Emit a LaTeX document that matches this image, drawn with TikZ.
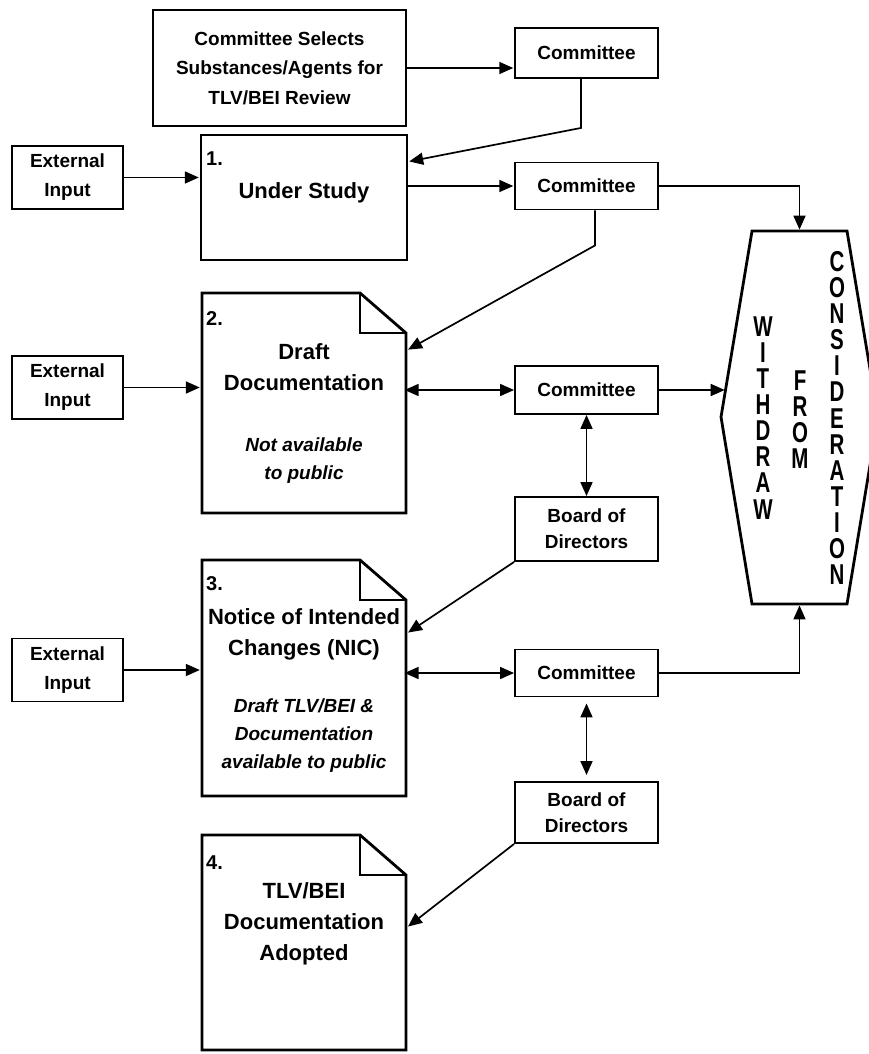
\documentclass[tikz,border=0pt]{standalone}
\usepackage{fontspec}
\setmainfont{Liberation Sans}
\usetikzlibrary{arrows.meta,calc}
\newcommand\docshape[1]{%
  \draw[docline] (#1.north west) -- ([xshift=-46pt]#1.north east) -- ([yshift=-40pt]#1.north east) -- (#1.south east) -- (#1.south west) -- cycle;
  \draw[docline] ([xshift=-46pt]#1.north east) -- ([xshift=-46pt,yshift=-40pt]#1.north east) -- ([yshift=-40pt]#1.north east);}
\begin{document}
\begin{tikzpicture}[x=1pt,y=-1pt,
  >={Triangle[length=14pt,width=12pt]},
  conn/.style={line width=1.7pt,->,shorten >=0.8pt},
  dconn/.style={line width=1.7pt,<->},
  smallbox/.style={draw,line width=1.9pt,minimum width=143pt,align=center,inner sep=0pt,
    font=\bfseries\fontsize{19}{27}\selectfont},
  extbox/.style={smallbox,minimum width=111pt,minimum height=63pt,font=\bfseries\fontsize{19}{29}\selectfont},
  bigbox/.style={draw,line width=2.8pt,inner sep=0pt,align=center},
  docbox/.style={inner sep=0pt,outer sep=0pt,minimum width=204pt},
  docline/.style={line width=2.8pt,line join=miter},
  title/.style={align=center,inner sep=0pt,font=\bfseries\fontsize{22}{31}\selectfont},
  note/.style={align=center,inner sep=0pt,font=\bfseries\itshape\fontsize{19}{28}\selectfont},
  num/.style={anchor=base west,inner sep=0pt,font=\bfseries\fontsize{20}{24}\selectfont},
  vert/.style={inner sep=0pt,font=\bfseries\fontsize{20.5}{18.6}\selectfont}]
\useasboundingbox (0,0) rectangle (869,1054);
\clip (0,0) rectangle (869,1054);
% top row
\node[bigbox,minimum width=253pt,minimum height=116pt,font=\bfseries\fontsize{19}{29.5}\selectfont] (TB) at (279.5,68)
  {Committee Selects\\Substances/Agents for\\TLV/BEI Review};
\node[smallbox,minimum height=50pt] (C1) at (586.5,53) {Committee};
% stage 1
\node[bigbox,minimum width=206pt,minimum height=125pt] (B1) at (304,197.5) {};
\node[num] (n1) at (206,165) {1.};
\node[title] (t1) at (304,193) {Under Study};
\node[extbox] (E1) at (67.5,177.5) {External\\Input};
\node[smallbox,minimum height=47pt] (C2) at (586.5,186) {Committee};
% stage 2
\node[docbox,minimum height=220pt] (B2) at (304,403) {};
\docshape{B2}
\node[num] (n2) at (206,325.5) {2.};
\node[title] (t2) at (304,367) {Draft\\Documentation};
\node[note] (i2) at (304,461) {Not available\\to public};
\node[extbox] (E2) at (67.5,387.5) {External\\Input};
\node[smallbox,minimum height=48pt] (C3) at (586.5,390) {Committee};
\node[smallbox,minimum height=64pt,font=\bfseries\fontsize{19}{26}\selectfont] (D1) at (586.5,529) {Board of\\Directors};
% stage 3
\node[docbox,minimum height=236pt] (B3) at (304,678) {};
\docshape{B3}
\node[num] (n3) at (206,590.5) {3.};
\node[title] (t3) at (304,634.5) {Notice of Intended\\Changes (NIC)};
\node[note] (i3) at (304,735.5) {Draft TLV/BEI \&\\Documentation\\available to public};
\node[extbox] (E3) at (67.5,670) {External\\Input};
\node[smallbox,minimum height=47pt] (C4) at (586.5,673) {Committee};
\node[smallbox,minimum height=61pt,font=\bfseries\fontsize{19}{26}\selectfont] (D2) at (586.5,812.5) {Board of\\Directors};
% stage 4
\node[docbox,minimum height=215pt] (B4) at (304,942.5) {};
\docshape{B4}
\node[num] (n4) at (206,869.5) {4.};
\node[title] (t4) at (304,924) {TLV/BEI\\Documentation\\Adopted};
% withdraw hexagon
\coordinate (hTL) at (752,231);
\coordinate (hTR) at (847,231);
\coordinate (hR) at (878,417);
\coordinate (hBR) at (847,604);
\coordinate (hBL) at (752,604);
\coordinate (hL) at (721,417);
\draw[docline] (hTL) -- (hTR) -- (hR) -- (hBR) -- (hBL) -- (hL) -- cycle;
\coordinate (htop) at (799.5,231);
\coordinate (hbot) at (799.5,604);
\coordinate (hin) at (725.5,390);
\node[vert] (w1) at (763,418) {\scalebox{1}[1.4]{\parbox{24pt}{\centering W\\I\\T\\H\\D\\R\\A\\W}}};
\node[vert] (w2) at (800,420) {\scalebox{1}[1.4]{\parbox{24pt}{\centering F\\R\\O\\M}}};
\node[vert] (w3) at (837,418) {\scalebox{1}[1.4]{\parbox{24pt}{\centering C\\O\\N\\S\\I\\D\\E\\R\\A\\T\\I\\O\\N}}};
% connectors
\draw[conn] (TB.east) -- (TB.east -| C1.west);
\draw[conn] ([xshift=-5.5pt]C1.south) -- ++(0,49) -- ([yshift=-28pt]B1.north east);
\draw[conn] (E1.east) -- (E1.east -| B1.west);
\draw[conn] (C2.west -| B1.east) -- (C2.west);
\draw[conn,shorten >=1.4pt] (C2.east) -| (htop);
\draw[conn] ([xshift=8.5pt]C2.south) -- ++(0,35) -- ([yshift=-57pt,xshift=1.4pt]B2.north east);
\draw[conn] (E2.east) -- ([xshift=-1.4pt]E2.east -| B2.west);
\draw[dconn,shorten <=-1.4pt] (C3.west -| B2.east) -- (C3.west);
\draw[conn] (C3.east) -- (hin);
\draw[dconn] (C3.south) -- (D1.north);
\draw[conn] (D1.south west) -- ([yshift=-73pt,xshift=1.4pt]B3.north east);
\draw[conn] (E3.east) -- ([xshift=-1.4pt]E3.east -| B3.west);
\draw[dconn,shorten <=-1.4pt] (C4.west -| B3.east) -- (C4.west);
\draw[conn,shorten >=1.4pt] (C4.east) -| (hbot);
\draw[dconn,shorten <=6pt,shorten >=6pt] (C4.south) -- (D2.north);
\draw[conn] (D2.south west) -- ([yshift=-92pt,xshift=1.4pt]B4.north east);
\end{tikzpicture}
\end{document}
